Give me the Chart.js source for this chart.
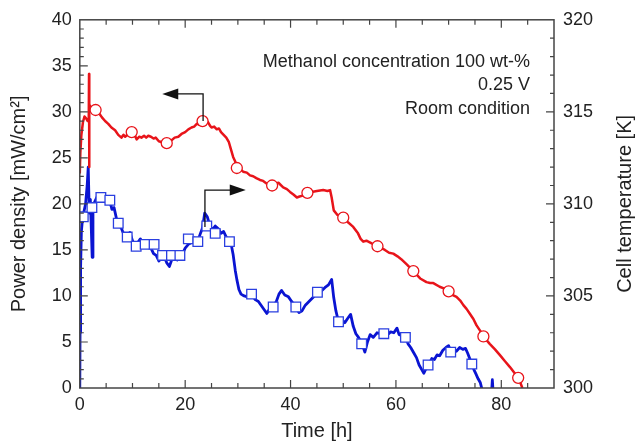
<!DOCTYPE html>
<html>
<head>
<meta charset="utf-8">
<script src="https://cdn.jsdelivr.net/npm/chart.js@4"></script>
<style>
  html, body { margin: 0; padding: 0; background: #fff; }
  #wrap { width: 637px; height: 443px; }
</style>
</head>
<body>
<div id="wrap"><canvas id="myChart"></canvas></div>
<script>
// power density (left axis), red
var redTime = [0, 0.1, 0.3, 0.6, 0.9, 1.2, 1.5, 1.7, 1.75, 1.78, 1.82, 2.2, 2.6, 3.1, 3.6, 4.2, 4.8, 5.4, 6.0, 6.7,
  7.3, 7.9, 8.3, 8.6, 9.2, 9.85, 10.4, 10.8, 11.3, 11.7, 12.2, 12.6, 13.0, 13.5, 14.0, 14.4, 15.0, 15.6, 16.5, 17.4,
  18.0, 18.7, 19.3, 20.0, 20.6, 21.2, 21.7, 22.2, 22.8, 23.3, 23.8, 24.3, 24.7, 25.0, 25.5, 26.0, 26.4, 26.8, 27.3, 27.8,
  28.3, 28.7, 29.1, 29.5, 29.8, 30.4, 31.0, 31.7, 32.3, 32.9, 33.5, 34.2, 34.8, 35.5, 36.5, 37.2, 37.7, 38.6, 39.3, 39.9,
  40.6, 41.2, 41.7, 42.3, 43.2, 44.0, 45.0, 46.2, 47.0, 47.5, 47.8, 48.2, 48.9, 50.0, 50.9, 51.9, 52.8, 53.3, 53.8, 54.4,
  55.4, 56.5, 57.9, 58.7, 59.5, 60.3, 61.0, 62.1, 63.3, 64.6, 65.8, 66.5, 67.1, 68.3, 69.2, 70.0, 70.8, 71.5, 72.2, 72.8,
  73.4, 74.0, 74.7, 75.3, 76.0, 76.6, 77.2, 77.8, 78.8, 79.7, 80.7, 81.6, 82.4, 83.2, 83.6, 84.0];
var redPower = [23.3, 25.5, 27.5, 28.9, 29.5, 29.3, 29.0, 29.2, 34.1, 24.0, 30.8, 30.4, 30.3, 30.2, 29.9, 29.4, 29.0, 28.7, 28.3, 28.0,
  27.5, 27.2, 27.5, 27.3, 27.6, 27.8, 27.5, 27.0, 27.3, 27.2, 27.4, 27.2, 27.4, 27.3, 27.1, 27.2, 26.8, 26.7, 26.6, 26.9,
  27.2, 27.3, 27.6, 27.8, 28.1, 28.3, 28.4, 28.7, 28.6, 29.0, 29.1, 28.9, 28.5, 28.3, 28.4, 28.1, 28.2, 27.8, 27.5, 27.2,
  26.7, 25.9, 25.1, 24.6, 24.0, 23.8, 23.5, 23.4, 23.1, 23.0, 22.8, 22.6, 22.5, 22.2, 22.0, 22.2, 22.3, 21.8, 21.6, 21.3,
  21.0, 20.7, 20.8, 20.9, 21.2, 21.3, 21.4, 21.5, 21.4, 21.5, 20.7, 19.3, 18.8, 18.5, 18.0, 17.5, 16.8, 16.2, 15.9, 16.0,
  15.7, 15.4, 15.0, 14.7, 14.6, 14.3, 14.0, 13.4, 12.7, 11.9, 11.5, 11.4, 11.4, 11.0, 10.8, 10.4, 10.1, 9.9, 9.5, 9.0,
  8.6, 8.1, 7.5, 6.8, 6.2, 5.6, 5.2, 4.8, 4.2, 3.6, 2.9, 2.3, 1.7, 1.1, 0.6, 0.0];
var redMarkTime = [3.0, 9.85, 16.5, 23.3, 29.8, 36.5, 43.2, 50.0, 56.5, 63.3, 70.0, 76.6, 83.2];
var redMarkPower = [30.2, 27.8, 26.6, 29.0, 23.9, 22.0, 21.2, 18.5, 15.4, 12.7, 10.5, 5.6, 1.1];

// cell temperature (right axis), blue
var blueTime = [0, 0.05, 0.15, 0.3, 0.5, 0.8, 1.1, 1.4, 1.6, 1.8, 2.0, 2.2, 2.35, 2.5, 2.8, 3.3, 3.8, 4.2, 4.7, 5.2,
  5.7, 6.1, 6.5, 7.0, 7.5, 8.0, 8.5, 9.0, 9.5, 10.0, 10.5, 11.0, 11.5, 12.0, 12.5, 13.0, 13.5, 14.0, 14.5, 15.0,
  15.5, 16.0, 16.5, 17.0, 17.5, 18.0, 18.5, 19.0, 19.5, 20.0, 20.6, 21.2, 21.8, 22.4, 22.9, 23.3, 23.7, 24.2, 24.7, 25.2,
  25.7, 26.3, 26.8, 27.3, 27.8, 28.4, 28.8, 29.1, 29.5, 29.8, 30.2, 30.6, 31.2, 31.8, 32.6, 33.3, 33.9, 34.5, 35.0, 35.5,
  36.0, 36.7, 37.3, 37.8, 38.3, 38.9, 39.6, 40.2, 41.0, 41.6, 42.2, 42.8, 43.5, 44.2, 45.1, 45.8, 46.5, 47.2, 47.8, 48.2,
  48.6, 49.1, 49.7, 50.3, 50.9, 51.4, 51.9, 52.4, 52.9, 53.5, 54.1, 54.6, 55.1, 55.7, 56.4, 57.0, 57.7, 58.4, 59.0, 59.6,
  60.2, 60.6, 61.2, 61.8, 62.3, 62.8, 63.4, 63.9, 64.4, 64.9, 65.3, 65.8, 66.3, 66.8, 67.3, 67.8, 68.3, 68.9, 69.5, 70.0,
  70.4, 70.9, 71.5, 72.1, 72.7, 73.2, 73.6, 74.0, 74.4, 74.8, 75.2, 75.6, 76.0, 76.5, 77.0, 77.5, 78.1, 78.3, 78.5];
var blueTemp = [300.0, 303.0, 306.5, 308.5, 309.15, 309.6, 310.0, 311.0, 312.0, 309.5, 310.25, 308.5, 307.1, 309.75, 310.1, 310.4, 310.3, 310.5, 310.15, 310.4,
  310.15, 309.7, 309.8, 309.15, 308.9, 308.6, 308.25, 308.2, 308.45, 308.0, 307.75, 307.9, 308.1, 307.75, 307.7, 307.95, 307.6, 307.3, 307.2, 306.9,
  307.05, 307.15, 306.8, 306.6, 307.0, 307.2, 306.95, 307.15, 307.3, 307.6, 307.8, 307.9, 308.15, 308.0, 308.4, 308.7, 309.5, 309.3, 308.8, 308.6,
  308.8, 308.65, 308.4, 308.5, 308.2, 307.95, 307.7, 307.25, 306.4, 305.9, 305.35, 305.1, 305.0, 304.95, 305.1, 304.8, 304.7, 304.45, 304.25, 304.05,
  304.3, 304.4, 304.7, 305.1, 305.3, 305.05, 304.95, 304.7, 304.4, 304.1, 304.2, 304.5, 304.7, 304.9, 305.2, 305.25, 305.45, 305.6, 305.9, 304.9,
  304.2, 303.6, 303.7, 303.55, 303.8, 304.0, 303.35, 302.95, 302.75, 302.45, 301.95, 302.5, 302.9, 302.75, 303.0, 302.95, 302.95, 302.9, 303.05, 303.0,
  303.25, 302.9, 302.85, 302.75, 302.4, 302.2, 301.9, 301.65, 301.25, 301.0, 300.8, 301.1, 301.3, 301.6, 301.55, 301.8, 301.75, 302.05, 302.2, 302.3,
  302.0, 302.15, 302.0, 302.2, 302.1, 302.15, 301.9, 301.6, 301.3, 301.0, 300.75, 300.5, 300.3, 299.75, 299.0, null, 299.5, 300.45, 299.5];
var blueMarkTime = [0.66, 2.3, 4.0, 5.7, 7.3, 9.0, 10.7, 12.4, 14.1, 15.7, 17.4, 19.0, 20.6, 22.4, 24.1, 25.7, 28.4,
  32.6, 36.7, 41.0, 45.1, 49.1, 53.5, 57.7, 61.8, 66.1, 70.4, 74.4];
var blueMarkTemp = [309.3, 309.8, 310.35, 310.2, 308.95, 308.2, 307.7, 307.8, 307.8, 307.2, 307.2, 307.2, 308.1, 307.95, 308.8, 308.4, 307.95,
  305.1, 304.4, 304.4, 305.2, 303.6, 302.4, 302.95, 302.75, 301.25, 301.95, 301.3];

// arrows pointing to each curve's axis
var redArrowTime = [23.4, 23.4, 15.65];
var redArrowPower = [29.0, 31.95, 31.95];
var blueArrowTime = [23.75, 23.75, 31.5];
var blueArrowTemp = [308.75, 310.75, 310.75];

var notes = ['Methanol concentration 100 wt-%', '0.25 V', 'Room condition'];
var rightTitle = 'Cell temperature [K]';

var FONT = '"Liberation Sans", Arial, sans-serif';
var RED = '#e8141a';
var BLUE = '#0a14d2';

function pts(xs, ys) {
    return xs.map(function (x, i) { return {x: x, y: ys[i]}; });
}

var framePlugin = {
    id: 'frame',
    afterDatasetsDraw: function (chart) {
        var ctx = chart.ctx, a = chart.chartArea;
        var x = chart.scales.x, y = chart.scales.y, y2 = chart.scales.y2;
        ctx.save();

        // arrows
        function arrow(xs, ys, sc) {
            var p = xs.map(function (v, i) { return [x.getPixelForValue(v), sc.getPixelForValue(ys[i])]; });
            var n = p.length - 1;
            var dir = Math.sign(p[n][0] - p[n - 1][0]);
            ctx.strokeStyle = '#111';
            ctx.lineWidth = 1.3;
            ctx.beginPath();
            ctx.moveTo(p[0][0], p[0][1]);
            for (var i = 1; i < n; i++) ctx.lineTo(p[i][0], p[i][1]);
            ctx.lineTo(p[n][0] - dir * 15, p[n][1]);
            ctx.stroke();
            ctx.fillStyle = '#111';
            ctx.beginPath();
            ctx.moveTo(p[n][0], p[n][1]);
            ctx.lineTo(p[n][0] - dir * 16, p[n][1] - 5.5);
            ctx.lineTo(p[n][0] - dir * 16, p[n][1] + 5.5);
            ctx.closePath();
            ctx.fill();
        }
        arrow(redArrowTime, redArrowPower, y);
        arrow(blueArrowTime, blueArrowTemp, y2);

        // frame + inward ticks
        ctx.strokeStyle = '#444';
        ctx.lineWidth = 1.5;
        ctx.strokeRect(a.left, a.top, a.right - a.left, a.bottom - a.top);
        ctx.lineWidth = 1.2;
        ctx.beginPath();
        for (var t = 5; t < 90; t += 5) {
            var px = x.getPixelForValue(t);
            var L = t % 20 === 0 ? 8 : 5;
            ctx.moveTo(px, a.bottom); ctx.lineTo(px, a.bottom - L);
            ctx.moveTo(px, a.top); ctx.lineTo(px, a.top + L);
        }
        for (var v = 1; v < 40; v++) {
            var py = y.getPixelForValue(v);
            ctx.moveTo(a.left, py); ctx.lineTo(a.left + (v % 5 === 0 ? 8 : 4), py);
        }
        for (var k = 301; k < 320; k++) {
            var py2 = y2.getPixelForValue(k);
            ctx.moveTo(a.right, py2); ctx.lineTo(a.right - (k % 5 === 0 ? 8 : 4), py2);
        }
        ctx.stroke();

        // notes
        ctx.fillStyle = '#222';
        ctx.font = '18px ' + FONT;
        ctx.textAlign = 'right';
        ctx.textBaseline = 'middle';
        notes.forEach(function (s, i) {
            ctx.fillText(s, a.right - 24, a.top + 42 + i * 23.5);
        });

        // right axis title, reading bottom to top
        ctx.font = '20px ' + FONT;
        ctx.textAlign = 'center';
        ctx.translate(625, (a.top + a.bottom) / 2);
        ctx.rotate(-Math.PI / 2);
        ctx.fillText(rightTitle, 0, 0);
        ctx.restore();
    }
};

var tickFont = {family: FONT, size: 18};
var titleFont = {family: FONT, size: 20};

var ctx = document.getElementById('myChart');
var myChart = new Chart(ctx, {
    type: 'line',
    data: {
        datasets: [{
            data: pts(redMarkTime, redMarkPower),
            yAxisID: 'y',
            showLine: false,
            pointStyle: 'circle',
            pointRadius: 5.5,
            pointBorderWidth: 1.3,
            pointBorderColor: RED,
            pointBackgroundColor: '#fff'
        }, {
            data: pts(blueMarkTime, blueMarkTemp),
            yAxisID: 'y2',
            showLine: false,
            pointStyle: 'rect',
            pointRadius: 6.8,
            pointBorderWidth: 1.3,
            pointBorderColor: '#2a3fe0',
            pointBackgroundColor: '#fff'
        }, {
            data: pts(redTime, redPower),
            yAxisID: 'y',
            borderColor: RED,
            borderWidth: 2.5,
            borderJoinStyle: 'round',
            pointRadius: 0,
            tension: 0
        }, {
            data: pts(blueTime, blueTemp),
            yAxisID: 'y2',
            borderColor: BLUE,
            borderWidth: 2.8,
            borderJoinStyle: 'round',
            pointRadius: 0,
            spanGaps: false,
            tension: 0
        }]
    },
    options: {
        responsive: true,
        maintainAspectRatio: false,
        animation: false,
        layout: {
            padding: {top: 19, left: 0, right: 0, bottom: 0}
        },
        plugins: {
            legend: {display: false},
            tooltip: {enabled: false}
        },
        scales: {
            x: {
                type: 'linear',
                position: 'bottom',
                min: 0,
                max: 90,
                grid: {display: false, drawTicks: false},
                border: {display: false},
                ticks: {
                    stepSize: 20,
                    padding: 6,
                    color: '#222',
                    font: tickFont,
                    maxRotation: 0,
                    callback: function (v) { return v % 20 === 0 ? v : ''; }
                },
                title: {display: true, text: 'Time [h]', color: '#222', font: titleFont, padding: {top: 0, bottom: 0}},
                afterFit: function (s) { s.height = 55; }
            },
            y: {
                position: 'left',
                min: 0,
                max: 40,
                grid: {display: false, drawTicks: false},
                border: {display: false},
                ticks: {stepSize: 5, padding: 8, color: '#222', font: tickFont},
                title: {display: true, text: 'Power density [mW/cm²]', color: '#222', font: titleFont, padding: {top: 7, bottom: 0}},
                afterFit: function (s) { s.width = 79.8; }
            },
            y2: {
                position: 'right',
                min: 300,
                max: 320,
                grid: {display: false, drawTicks: false},
                border: {display: false},
                ticks: {stepSize: 5, padding: 9, color: '#222', font: tickFont},
                title: {display: false},
                afterFit: function (s) { s.width = 83; }
            }
        }
    },
    plugins: [framePlugin]
});
</script>
</body>
</html>
